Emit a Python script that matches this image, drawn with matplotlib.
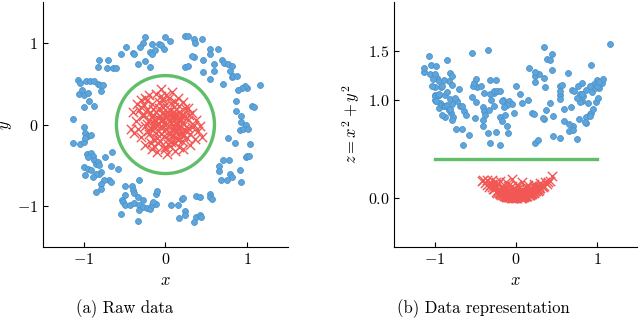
"""
Raw data vs. data representation (z = x^2 + y^2)
"""

import numpy as np
import matplotlib
matplotlib.use("Agg")
import matplotlib.pyplot as plt
from matplotlib.patches import Circle

plt.rcParams['mathtext.fontset'] = 'cm'
plt.rcParams['font.family'] = ['cmr10', 'DejaVu Serif']
plt.rcParams['axes.unicode_minus'] = False

BLUE = '#5DA5DA'
RED = '#F15854'
GREEN = '#60BD68'

# outer ring (class 0)
blue_x = np.array([
    -0.25, 0.00, 0.05, 0.24, 0.28, 0.35, 0.45, 0.36, -0.27, -0.31,
    -0.16, -0.08, -0.05, -0.02, -0.48, -0.40, -0.39, -0.54, -0.19, -0.17,
    -0.13, -0.25, -0.34, -0.19, -0.81, -0.70, -0.83, -0.72, -0.64, -0.61,
    0.24, 0.27, 0.55, 0.64, 0.46, 0.35, 0.33, 0.54, 0.60, 0.59,
    0.46, 0.69, 0.72, 0.77, 0.81, 0.79, 0.55, 0.70, 0.81, 0.83,
    0.87, -1.07, -1.05, -0.97, -0.92, -0.88, -0.83, -0.80, -0.77, -0.79,
    -1.06, -1.02, -1.00, -0.95, -1.00, -0.88, -0.94, -1.13,
    1.16, 1.00, 0.97, 0.94, 0.89, 0.86, 1.06, 1.08, 0.86, 0.92,
    0.93, 0.99, 0.91, 0.95, 1.01, 1.03, 0.98, 1.00, 1.02, 0.85,
    0.76, 0.65, 0.71, 0.78, 0.66, 0.79, 0.81, 0.68, 0.75, 0.91,
    0.93,
    -1.13, -1.04, -1.00, -1.00, -0.99, -0.95, -0.91, -0.98, -0.96, -0.91,
    -0.89, -0.95, -0.87, -0.85, -0.83, -0.81, -1.00, -0.95, -0.91, -0.79,
    -0.81, -0.85, -0.89, -0.98, -0.74, -0.67, -0.58, -0.65, -0.69, -0.67,
    -0.75, -0.79, -0.79, -0.85,
    -0.50, -0.49, -0.41, -0.40, -0.38, -0.32, -0.53, -0.52, -0.49, -0.54,
    -0.43, -0.39, -0.33, -0.32, -0.32, -0.27, -0.27, -0.23, -0.19, -0.17,
    -0.11, -0.11, -0.10, -0.15, -0.34, 0.07, 0.15, 0.24, 0.20, 0.22,
    0.37, 0.42, 0.54, 0.55, 0.57, 0.38, 0.42, 0.44, 0.24, 0.16,
    0.35,
])
blue_y = np.array([
    1.07, 1.07, 1.03, 1.09, 1.09, 1.05, 1.05, 1.00, 1.00, 0.95,
    0.99, 0.99, 0.98, 0.93, 0.95, 0.88, 0.86, 0.86, 0.89, 0.87,
    0.91, 0.78, 0.74, 0.71, 0.79, 0.79, 0.71, 0.69, 0.69, 0.69,
    0.71, 0.72, 0.92, 0.93, 0.79, 0.83, 0.84, 0.87, 0.74, 0.66,
    0.65, 0.79, 0.76, 0.74, 0.72, 0.66, 0.56, 0.50, 0.58, 0.59,
    0.59, 0.55, 0.51, 0.53, 0.54, 0.53, 0.50, 0.48, 0.48, 0.41,
    0.38, 0.42, 0.36, 0.39, 0.22, 0.23, 0.29, 0.07,
    0.48, 0.45, 0.47, 0.45, 0.42, 0.29, 0.23, 0.21, 0.17, 0.10,
    0.03, 0.00, -0.07, -0.05, -0.05, -0.24, -0.40, -0.38, -0.38, -0.23,
    -0.16, -0.51, -0.44, -0.44, -0.57, -0.60, -0.64, -0.68, -0.68, -0.56,
    -0.70,
    -0.23, -0.24, -0.21, -0.03, -0.10, -0.14, -0.13, -0.17, -0.36, -0.35,
    -0.38, -0.40, -0.43, -0.48, -0.46, -0.50, -0.52, -0.54, -0.56, -0.58,
    -0.60, -0.60, -0.64, -0.62, -0.40, -0.51, -0.55, -0.34, -0.68, -0.70,
    -0.68, -0.73, -0.79, -0.83,
    -0.75, -0.86, -0.75, -0.80, -0.84, -0.68, -0.93, -0.95, -0.99, -1.09,
    -0.98, -0.96, -0.89, -0.98, -1.05, -0.93, -1.01, -1.02, -1.03, -0.98,
    -0.97, -0.85, -0.81, -0.95, -1.18, -0.98, -0.99, -1.06, -0.91, -0.90,
    -0.87, -0.89, -0.85, -0.89, -0.91, -1.13, -1.11, -1.13, -1.11, -1.14,
    -1.19,
])

# inner blob (class 1)
red_x = np.array([
    -0.05, 0.02, -0.10, 0.08, -0.02, 0.12, -0.15, 0.05, -0.08, 0.15,
    -0.12, 0.00, 0.20, -0.20, 0.10, -0.18, 0.03, -0.07, 0.18, 0.22,
    -0.22, 0.06, -0.04, 0.14, -0.14, 0.00, 0.08, -0.10, 0.25, -0.25,
    0.12, -0.03, -0.28, 0.16, -0.16, 0.28, 0.00, -0.18, 0.20, 0.04,
    -0.35, -0.30, -0.25, -0.12, -0.05, 0.08, 0.15, 0.22, 0.28, 0.32,
    0.38, 0.40, 0.45, 0.42, 0.36, 0.30, 0.22, 0.12, 0.02, -0.10,
    -0.16, -0.25, -0.30, -0.38, -0.42, -0.36, -0.40, -0.32, 0.30, 0.35,
    -0.06, 0.10, -0.12, 0.05, 0.16, -0.20, 0.24, -0.08, 0.12, -0.26,
    0.02, -0.02, 0.18, -0.16, 0.26, 0.06, -0.14, -0.22, 0.20, 0.10,
    -0.01, 0.07, -0.09, 0.13, -0.13, 0.04, -0.06, 0.11, -0.17, 0.19,
    0.01, -0.11, 0.09, -0.03, 0.15, -0.19, 0.23, -0.21, 0.03, -0.07,
    0.17, -0.15, 0.07, -0.05, 0.21, -0.23, 0.11, -0.09, 0.01, 0.27,
    -0.27, 0.13, -0.01, 0.09, -0.12, 0.05, 0.19, -0.04, 0.24, -0.30,
    0.33, -0.33, 0.14, -0.08, 0.00, 0.17, -0.20, 0.07, -0.15, 0.29,
])
red_y = np.array([
    0.05, 0.10, 0.00, -0.05, -0.08, 0.08, 0.12, 0.18, 0.20, -0.12,
    -0.10, 0.00, 0.02, 0.05, 0.22, -0.05, -0.18, -0.20, -0.02, 0.12,
    0.18, 0.04, 0.14, 0.00, 0.06, 0.24, -0.15, -0.16, -0.08, -0.02,
    -0.22, 0.30, 0.10, 0.16, 0.25, 0.05, -0.28, -0.22, -0.20, 0.32,
    0.25, 0.30, 0.32, 0.38, 0.44, 0.40, 0.33, 0.28, 0.20, 0.14,
    0.05, -0.08, -0.15, -0.02, -0.18, -0.25, -0.30, -0.32, -0.36, -0.34,
    -0.30, -0.25, -0.15, -0.10, -0.05, 0.04, 0.15, 0.18, -0.12, 0.00,
    -0.02, 0.12, 0.15, -0.10, -0.06, -0.12, 0.20, 0.28, 0.28, 0.24,
    0.16, -0.14, 0.06, -0.02, -0.16, -0.26, -0.26, 0.30, -0.10, -0.04,
    0.03, 0.02, 0.08, -0.09, -0.03, 0.12, -0.12, 0.16, 0.09, 0.07,
    -0.05, 0.04, -0.01, 0.21, -0.19, 0.14, -0.05, -0.08, -0.24, 0.10,
    0.23, 0.19, 0.27, 0.35, -0.14, 0.01, 0.06, -0.23, 0.36, -0.04,
    0.13, -0.07, -0.30, 0.10, 0.00, -0.12, 0.11, 0.06, 0.10, 0.22,
    -0.03, -0.05, -0.17, 0.01, 0.13, -0.28, 0.36, -0.21, -0.18, 0.12,
])

circle_radius = 0.6
plane_z = 0.4
plane_x = [-1.0, 1.0]

# the representation shown in panel (b)
blue_z = blue_x ** 2 + blue_y ** 2
red_z = red_x ** 2 + red_y ** 2

xticks = [-1, 0, 1]
xticklabels = ['$-1$', '$0$', '$1$']
yticks_a = [-1, 0, 1]
yticklabels_a = ['$-1$', '$0$', '$1$']
yticks_b = [0.0, 1.0, 1.5]
yticklabels_b = ['$0.0$', '$1.0$', '$1.5$']


def style_axes(ax):
    for side in ['top', 'right']:
        ax.spines[side].set_visible(False)
    ax.tick_params(direction='in', length=3.5, width=0.8, labelsize=11.5,
                   top=False, right=False)


fig = plt.figure(figsize=(6.4, 3.3), dpi=100)
ax1 = fig.add_axes([0.067, 0.2515, 0.383, 0.742])
ax2 = fig.add_axes([0.616, 0.2515, 0.380, 0.742])

# (a) raw data
ax1.scatter(blue_x, blue_y, s=18, c=BLUE, edgecolors='#4b94cc',
            linewidths=0.6, zorder=2)
ax1.scatter(red_x, red_y, s=45, c=RED, marker='x', linewidths=1.0, zorder=3)
ax1.add_patch(Circle((0, 0), circle_radius, fill=False, ec=GREEN, lw=2.4,
                     zorder=4))
ax1.set_xlim(-1.5, 1.5)
ax1.set_ylim(-1.5, 1.5)
ax1.set_xticks(xticks)
ax1.set_xticklabels(xticklabels)
ax1.set_yticks(yticks_a)
ax1.set_yticklabels(yticklabels_a)
ax1.set_xlabel('$x$', fontsize=12, labelpad=4)
ax1.set_ylabel('$y$', fontsize=12, labelpad=2)
style_axes(ax1)

# (b) data representation
ax2.scatter(blue_x, blue_z, s=18, c=BLUE, edgecolors='#4b94cc',
            linewidths=0.6, zorder=2)
ax2.scatter(red_x, red_z, s=45, c=RED, marker='x', linewidths=1.0, zorder=3)
ax2.plot(plane_x, [plane_z, plane_z], color=GREEN, lw=2.4, zorder=4)
ax2.set_xlim(-1.5, 1.5)
ax2.set_ylim(-0.5, 2.0)
ax2.set_xticks(xticks)
ax2.set_xticklabels(xticklabels)
ax2.set_yticks(yticks_b)
ax2.set_yticklabels(yticklabels_b)
ax2.set_xlabel('$x$', fontsize=12, labelpad=4)
ax2.set_ylabel('$z = x^2 + y^2$', fontsize=12, labelpad=4)
style_axes(ax2)

fig.text(0.195, 0.035, '(a) Raw data', ha='center', va='bottom', fontsize=12)
fig.text(0.756, 0.035, '(b) Data representation', ha='center', va='bottom',
         fontsize=12)

fig.savefig('out.png', dpi=100)
